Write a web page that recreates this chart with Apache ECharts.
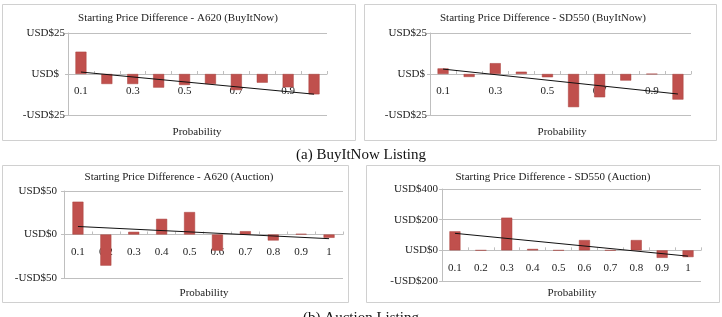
<!DOCTYPE html>
<html>
<head>
<meta charset="utf-8">
<script src="https://cdn.jsdelivr.net/npm/echarts@6/dist/echarts.min.js"></script>
<style>
html,body{margin:0;padding:0;background:#fff;}
#c{width:722px;height:317px;}
</style>
</head>
<body>
<div id="c"></div>
<script>
// ---- data ----
const categories = ['0.1','0.2','0.3','0.4','0.5','0.6','0.7','0.8','0.9','1'];
const a620BuyItNow = [13.6,-6.1,-6.1,-8.3,-6.7,-6.1,-9.8,-5.3,-8.1,-12.4];
const sd550BuyItNow = [3.4,-1.8,6.6,1.4,-2.0,-20.2,-14.2,-4.0,0,-15.6];
const a620Auction = [37.7,-35.8,3.1,18.0,25.8,-18.5,3.8,-6.9,0.8,-3.8];
const sd550Auction = [124,0,213,9,0,67,0,67,-49,-44];
// trend line end points (first and last category)
const a620BuyItNowTrend = [1.2,-12.3];
const sd550BuyItNowTrend = [3.0,-12.2];
const a620AuctionTrend = [9.2,-4.8];
const sd550AuctionTrend = [111,-38];
// tick labels
const ticksBin = [-25,0,25];
const labelsBin = ['-USD$25','USD$','USD$25'];
const ticksA620Auc = [-50,0,50];
const labelsA620Auc = ['-USD$50','USD$0','USD$50'];
const ticksSd550Auc = [-200,0,200,400];
const labelsSd550Auc = ['-USD$200','USD$0','USD$200','USD$400'];
const titles = [
  'Starting Price Difference - A620 (BuyItNow)',
  'Starting Price Difference - SD550 (BuyItNow)',
  'Starting Price Difference - A620 (Auction)',
  'Starting Price Difference - SD550 (Auction)'
];
const xName = 'Probability';
const captions = ['(a) BuyItNow Listing','(b) Auction Listing'];

// ---- layout ----
const panels = [
  {values:a620BuyItNow, trend:a620BuyItNowTrend, ticks:ticksBin, labels:labelsBin, min:-25, max:25, interval:25,
   box:[2,4,353,136], grid:{left:68,top:33,width:259,height:82}, titleX:178, titleY:18, nameX:197, nameY:132,
   labelInterval:1, yMargin:3, zeroPad:6},
  {values:sd550BuyItNow, trend:sd550BuyItNowTrend, ticks:ticksBin, labels:labelsBin, min:-25, max:25, interval:25,
   box:[364,4,352,136], grid:{left:430,top:33,width:261,height:82}, titleX:543, titleY:18, nameX:562, nameY:132,
   labelInterval:1, yMargin:3, zeroPad:2},
  {values:a620Auction, trend:a620AuctionTrend, ticks:ticksA620Auc, labels:labelsA620Auc, min:-50, max:50, interval:50,
   box:[2,165,346,137], grid:{left:64,top:191,width:279,height:87}, titleX:179, titleY:177, nameX:204, nameY:293,
   labelInterval:0, yMargin:7, zeroPad:0},
  {values:sd550Auction, trend:sd550AuctionTrend, ticks:ticksSd550Auc, labels:labelsSd550Auc, min:-200, max:400, interval:200,
   box:[366,165,353,137], grid:{left:442,top:189,width:259,height:92}, titleX:553, titleY:177, nameX:572, nameY:293,
   labelInterval:0, yMargin:4, zeroPad:0}
];

const FONT = '"Liberation Serif","Times New Roman",serif';
const axisGrey = '#bfbfbf';
const barColor = '#c0504d';

const grid=[], xAxis=[], yAxis=[], series=[], title=[], graphic=[];
panels.forEach((p,i)=>{
  graphic.push({type:'rect', shape:{x:p.box[0]+0.5,y:p.box[1]+0.5,width:p.box[2],height:p.box[3]},
    style:{fill:'#fff',stroke:'#d0d0d0',lineWidth:1}, z:-10, silent:true});
  graphic.push({type:'text', x:p.nameX, y:p.nameY, style:{text:xName, font:'11px '+FONT, fill:'#222',
    textAlign:'center', textVerticalAlign:'middle'}, z:10});
  title.push({text:titles[i], left:p.titleX, top:p.titleY, textAlign:'center', textVerticalAlign:'middle',
    padding:0, textStyle:{fontFamily:FONT, fontSize:11, fontWeight:'normal', color:'#222'}});
  grid.push(Object.assign({containLabel:false}, p.grid));
  // move the category axis (line, ticks and labels) up to the zero line
  const zeroOffset = -p.grid.height * (0 - p.min) / (p.max - p.min);
  xAxis.push({type:'category', gridIndex:i, data:categories, boundaryGap:true, position:'bottom',
    offset:zeroOffset,
    axisLine:{show:true, onZero:false, lineStyle:{color:axisGrey,width:1}},
    axisTick:{show:true, inside:true, length:3, interval:0, lineStyle:{color:axisGrey}},
    axisLabel:{interval:p.labelInterval, margin:12, fontFamily:FONT, fontSize:11, color:'#222'},
    splitLine:{show:false}, z:0});
  yAxis.push({type:'value', gridIndex:i, min:p.min, max:p.max, interval:p.interval,
    axisLine:{show:true, lineStyle:{color:axisGrey,width:1}},
    axisTick:{show:true, length:3, lineStyle:{color:axisGrey}},
    splitLine:{show:true, lineStyle:{color:axisGrey,width:1}},
    axisLabel:{margin:p.yMargin, fontFamily:FONT, fontSize:11, color:'#222',
      formatter:(v)=>{const k=p.ticks.indexOf(v); const s=k>=0?p.labels[k]:'';
        return (v===0 && p.zeroPad)?'{z|'+s+'}':s;},
      rich:{z:{fontFamily:FONT, fontSize:11, color:'#222', padding:[0,p.zeroPad,0,0]}}}});
  series.push({type:'bar', xAxisIndex:i, yAxisIndex:i, data:p.values, barWidth:11,
    itemStyle:{color:barColor, borderColor:'#a8403d', borderWidth:0.5}, z:2, silent:true});
  series.push({type:'line', xAxisIndex:i, yAxisIndex:i,
    data:[[0,p.trend[0]],[categories.length-1,p.trend[1]]],
    symbol:'none', lineStyle:{color:'#111',width:1}, z:5, silent:true});
});
graphic.push({type:'text', x:361, y:155, style:{text:captions[0], font:'15px '+FONT, fill:'#111',
  textAlign:'center', textVerticalAlign:'middle'}});
graphic.push({type:'text', x:361, y:318, style:{text:captions[1], font:'15px '+FONT, fill:'#111',
  textAlign:'center', textVerticalAlign:'middle'}});

const chart = echarts.init(document.getElementById('c'), null, {renderer:'canvas'});
chart.setOption({backgroundColor:'#fff', animation:false, title, grid, xAxis, yAxis, series, graphic});
</script>
</body>
</html>
